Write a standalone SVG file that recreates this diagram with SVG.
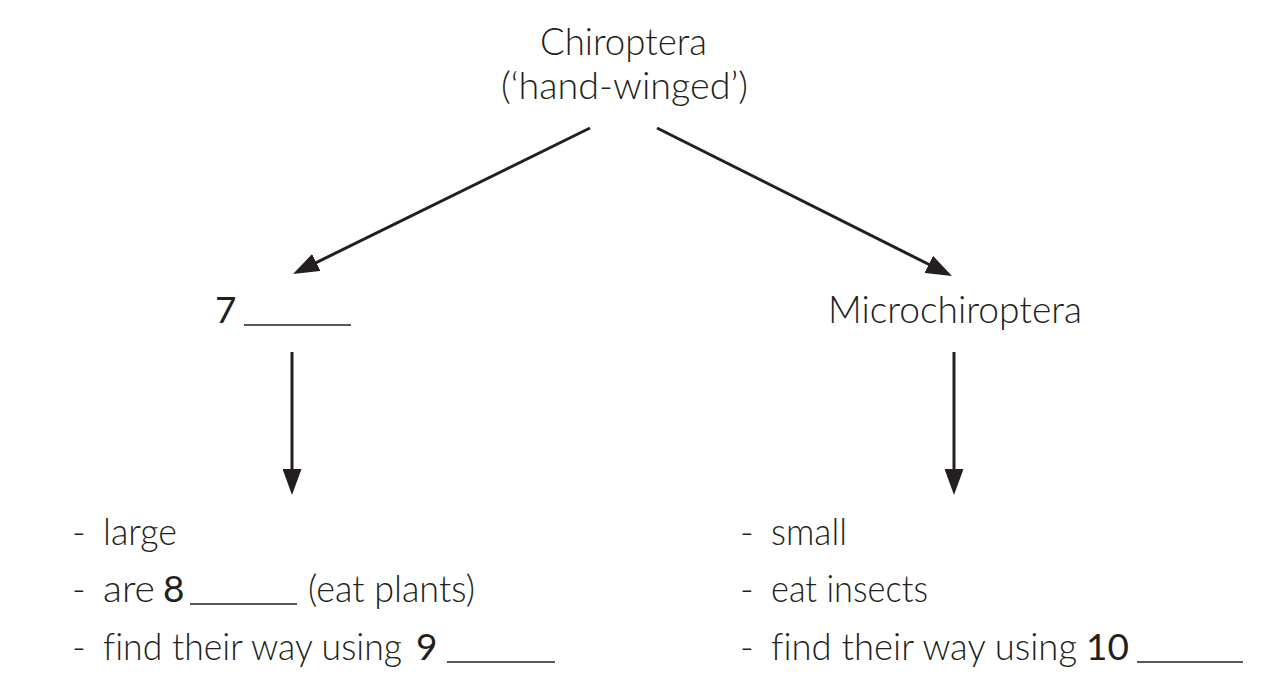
<svg xmlns="http://www.w3.org/2000/svg" width="1280" height="700" viewBox="0 0 1280 700">
<style>
text{font-family:Lato,"Open Sans","Liberation Sans",sans-serif;font-weight:300;font-size:37px;fill:#231f20;font-variant-ligatures:none}
.n{font-weight:400}
.c{stroke:#231f20;stroke-width:3;fill:none}
.u{stroke:#231f20;stroke-width:1.6}
</style>
<defs>
<marker id="ah" markerUnits="userSpaceOnUse" viewBox="0 0 26 19" markerWidth="26" markerHeight="19" refX="16" refY="9.5" orient="auto">
<path d="M0,0 L26,9.5 L0,19 Z" fill="#231f20"/>
</marker>
</defs>
<rect width="1280" height="700" fill="#ffffff"/>
<g id="root">
<text x="540" y="55" textLength="167" lengthAdjust="spacingAndGlyphs">Chiroptera</text>
<text x="501" y="99" textLength="247" lengthAdjust="spacingAndGlyphs">(‘hand-winged’)</text>
</g>
<g id="megachiroptera">
<text x="215" y="323" class="n">7</text>
<line class="u" x1="244" y1="325" x2="351" y2="325"/>
</g>
<g id="microchiroptera">
<text x="828" y="323" textLength="254" lengthAdjust="spacingAndGlyphs">Microchiroptera</text>
</g>
<g id="mega-traits">
<text x="72" y="545">-</text><text x="103" y="545" textLength="74" lengthAdjust="spacingAndGlyphs">large</text>
<text x="72" y="602">-</text><text x="103" y="602" textLength="52" lengthAdjust="spacingAndGlyphs">are</text>
<text x="163" y="602" class="n">8</text>
<line class="u" x1="190" y1="604" x2="297" y2="604"/>
<text x="308" y="602" textLength="167" lengthAdjust="spacingAndGlyphs">(eat plants)</text>
<text x="72" y="660">-</text><text x="103" y="660" textLength="299" lengthAdjust="spacingAndGlyphs">find their way using</text>
<text x="416" y="660" class="n">9</text>
<line class="u" x1="447" y1="662" x2="555" y2="662"/>
</g>
<g id="micro-traits">
<text x="740" y="545">-</text><text x="771" y="545" textLength="76" lengthAdjust="spacingAndGlyphs">small</text>
<text x="740" y="602">-</text><text x="771" y="602" textLength="157" lengthAdjust="spacingAndGlyphs">eat insects</text>
<text x="740" y="660">-</text><text x="771" y="660" textLength="306" lengthAdjust="spacingAndGlyphs">find their way using</text>
<text x="1086" y="660" class="n">10</text>
<line class="u" x1="1137" y1="662" x2="1243" y2="662"/>
</g>
<g id="connectors">
<line class="c" x1="590" y1="128" x2="301.98" y2="269.59" marker-end="url(#ah)"/>
<line class="c" x1="657" y1="128" x2="943.06" y2="271.52" marker-end="url(#ah)"/>
<line class="c" x1="292" y1="352" x2="292" y2="485" marker-end="url(#ah)"/>
<line class="c" x1="954" y1="352" x2="954" y2="485" marker-end="url(#ah)"/>
</g>
</svg>
